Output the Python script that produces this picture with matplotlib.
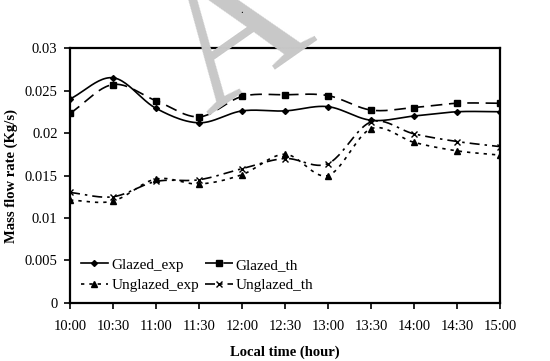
import numpy as np
import matplotlib
matplotlib.use("Agg")
import matplotlib.pyplot as plt

plt.rcParams['font.family'] = ['Liberation Serif', 'DejaVu Serif']

times = ["10:00", "10:30", "11:00", "11:30", "12:00", "12:30",
         "13:00", "13:30", "14:00", "14:30", "15:00"]
glazed_exp = [0.0240, 0.0265, 0.0229, 0.0212, 0.0226, 0.0226,
              0.0231, 0.0215, 0.0220, 0.0225, 0.0225]
glazed_th = [0.0223, 0.0257, 0.0238, 0.0219, 0.0243, 0.0245,
             0.0244, 0.0227, 0.0230, 0.0235, 0.0235]
unglazed_exp = [0.0121, 0.0120, 0.0146, 0.0140, 0.0151, 0.0175,
                0.0150, 0.0205, 0.0189, 0.0179, 0.0174]
unglazed_th = [0.0130, 0.0125, 0.0143, 0.0145, 0.0158, 0.0170,
               0.0164, 0.0213, 0.0199, 0.0190, 0.0184]


def smooth(x, y, n=24):
    # Catmull-Rom curve through the points, like Excel's smoothed line
    x = np.asarray(x, float)
    y = np.asarray(y, float)
    px = np.concatenate([[2 * x[0] - x[1]], x, [2 * x[-1] - x[-2]]])
    py = np.concatenate([[2 * y[0] - y[1]], y, [2 * y[-1] - y[-2]]])
    xs, ys = [], []
    t = np.linspace(0, 1, n, endpoint=False)
    for i in range(1, len(px) - 2):
        for p, out in ((px, xs), (py, ys)):
            p0, p1, p2, p3 = p[i - 1], p[i], p[i + 1], p[i + 2]
            out.extend(0.5 * (2 * p1 + (-p0 + p2) * t
                              + (2 * p0 - 5 * p1 + 4 * p2 - p3) * t ** 2
                              + (-p0 + 3 * p1 - 3 * p2 + p3) * t ** 3))
    xs.append(x[-1])
    ys.append(y[-1])
    return np.array(xs), np.array(ys)


fig = plt.figure(figsize=(5.5, 3.61), dpi=100)

# faint watermark letter behind the chart
fig.text(0.43, 0.89, "A", fontsize=135, color="#c8c8c8", rotation=35,
         ha="center", va="center", zorder=0)
fig.text(0.44, 0.97, ".", fontsize=8, color="black", ha="center", va="center")

ax = fig.add_axes([0.1273, 0.1607, 0.7818, 0.7063])
ax.set_facecolor("none")

x = np.arange(len(times))
series = [
    (glazed_exp, "Glazed_exp", dict(linestyle="-", marker="D", ms=3)),
    (unglazed_exp, "Unglazed_exp", dict(linestyle=(0, (2, 3)), marker="^", ms=4)),
    (glazed_th, "Glazed_th", dict(linestyle=(0, (7, 4)), marker="s", ms=4.5)),
    (unglazed_th, "Unglazed_th", dict(linestyle=(0, (6, 3, 1.5, 3)), marker="x", ms=5)),
]
for vals, name, st in series:
    sx, sy = smooth(x, vals)
    ax.plot(sx, sy, color="black", lw=1.2, linestyle=st["linestyle"])
    ax.plot(x, vals, linestyle="none", marker=st["marker"], ms=st["ms"],
            color="black", mew=1.0)
    ax.plot([], [], color="black", lw=1.2, linestyle=st["linestyle"],
            marker=st["marker"], ms=st["ms"], mew=1.0, label=name)

ax.set_xlim(0, len(times) - 1)
ax.set_ylim(0, 0.03)
ax.set_xticks(x)
ax.set_xticklabels(times)
ax.set_yticks(np.arange(0, 0.0301, 0.005))
ax.set_yticklabels(["0", "0.005", "0.01", "0.015", "0.02", "0.025", "0.03"])
ax.tick_params(direction="out", length=4, width=1.2, labelsize=10.5, pad=5)
ax.tick_params(axis="x", pad=8)
for s in ax.spines.values():
    s.set_linewidth(1.6)

ax.set_xlabel("Local time (hour)", fontsize=10.5, fontweight="bold", labelpad=9)
ax.set_ylabel("Mass flow rate (Kg/s)", fontsize=10.5, fontweight="bold", labelpad=5)

ax.legend(loc="lower left", ncol=2, frameon=False, fontsize=11,
          handlelength=1.8, handletextpad=0.2, columnspacing=0.4,
          labelspacing=0.45, borderpad=0.2, borderaxespad=0.5)

fig.savefig("out.png", dpi=100)
